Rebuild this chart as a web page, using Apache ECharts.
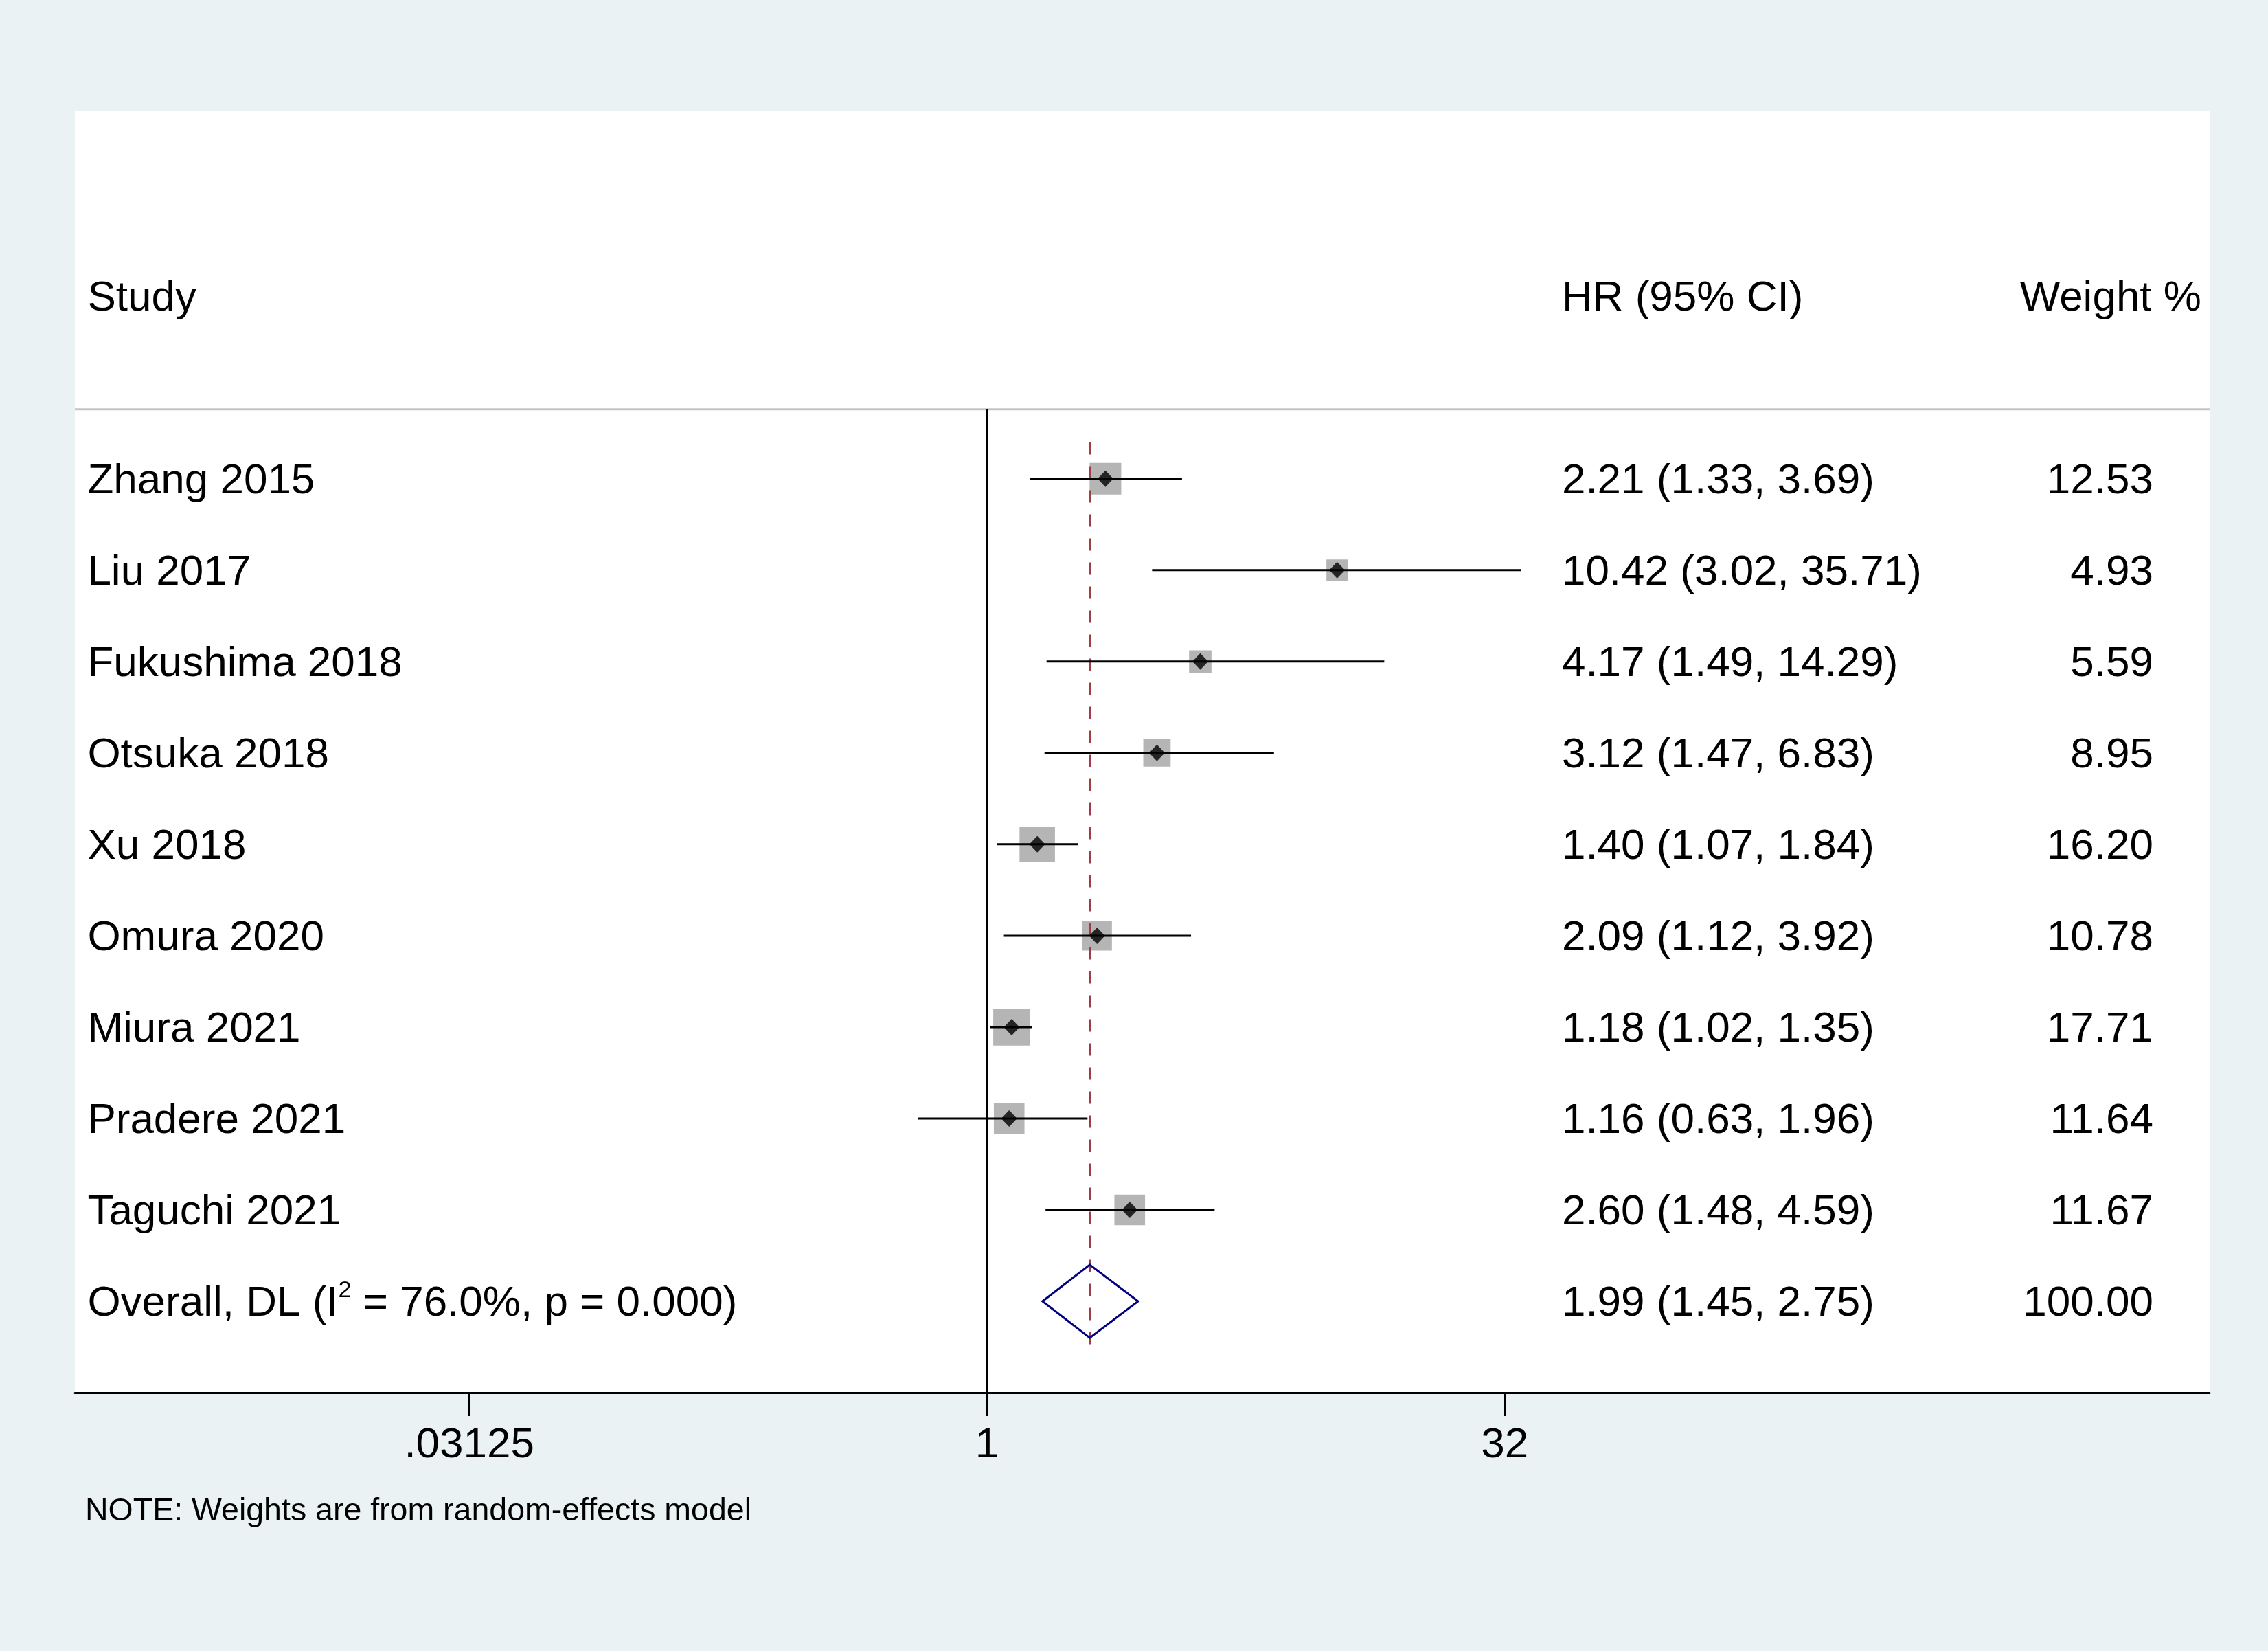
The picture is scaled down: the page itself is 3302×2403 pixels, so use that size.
<!doctype html>
<html>
<head>
<meta charset="utf-8">
<title>Forest plot</title>
<style>
html, body { margin: 0; padding: 0; background: #eaf2f3; }
#main { width: 3302px; height: 2403px; }
</style>
</head>
<body>
<div id="main"></div>
<script src="https://cdn.jsdelivr.net/npm/echarts@6/dist/echarts.min.js"></script>
<script>
// data
var studies = ['Zhang 2015', 'Liu 2017', 'Fukushima 2018', 'Otsuka 2018', 'Xu 2018',
  'Omura 2020', 'Miura 2021', 'Pradere 2021', 'Taguchi 2021'];
var hr     = [2.21, 10.42, 4.17, 3.12, 1.40, 2.09, 1.18, 1.16, 2.60];
var lower  = [1.33, 3.02, 1.49, 1.47, 1.07, 1.12, 1.02, 0.63, 1.48];
var upper  = [3.69, 35.71, 14.29, 6.83, 1.84, 3.92, 1.35, 1.96, 4.59];
var weight = [12.53, 4.93, 5.59, 8.95, 16.20, 10.78, 17.71, 11.64, 11.67];
var overall = [1.99, 1.45, 2.75];   // estimate, lower, upper
var overallWeight = 100.00;
var overallLabel = 'Overall, DL (I{s|2} = 76.0%, p = 0.000)';
var headers = ['Study', 'HR (95% CI)', 'Weight %'];
var tickValues = [1 / 32, 1, 32];
var note = 'NOTE: Weights are from random-effects model';

var FONT = '"Liberation Sans", Arial, Helvetica, sans-serif';
var log2 = function (v) { return Math.log(v) / Math.LN2; };
var fmt = function (v) { return v.toFixed(2); };

// column positions (in log2 axis units) and rows
var colStudy = -8.687, colHR = 5.552, colWeight = 11.264, colWeightHead = 11.728;
var headRow = -2.0, sepRow = -0.76, overallRow = studies.length;
var textDy = 4;

var labelItems = [];
labelItems.push({ x: colStudy, row: headRow, text: headers[0], align: 'left' });
labelItems.push({ x: colHR, row: headRow, text: headers[1], align: 'left' });
labelItems.push({ x: colWeightHead, row: headRow, text: headers[2], align: 'right' });
studies.forEach(function (s, i) {
  labelItems.push({ x: colStudy, row: i, text: s, align: 'left' });
  labelItems.push({ x: colHR, row: i, text: fmt(hr[i]) + ' (' + fmt(lower[i]) + ', ' + fmt(upper[i]) + ')', align: 'left' });
  labelItems.push({ x: colWeight, row: i, text: fmt(weight[i]), align: 'right' });
});
labelItems.push({ x: colStudy, row: overallRow, text: '{n|' + overallLabel.replace('{s|2}', '}{s|2}{n|') + '}', align: 'left' });
labelItems.push({ x: colHR, row: overallRow, text: fmt(overall[0]) + ' (' + fmt(overall[1]) + ', ' + fmt(overall[2]) + ')', align: 'left' });
labelItems.push({ x: colWeight, row: overallRow, text: fmt(overallWeight), align: 'right' });

var ciData = studies.map(function (s, i) { return [log2(lower[i]), log2(upper[i]), i]; });
var boxData = studies.map(function (s, i) { return [log2(hr[i]), i, weight[i]]; });
var pointData = studies.map(function (s, i) { return [log2(hr[i]), i]; });

var chart = echarts.init(document.getElementById('main'));

var option = {
  animation: false,
  backgroundColor: '#eaf2f3',
  textStyle: { fontFamily: FONT },
  grid: { left: 109, right: 85, top: 162, bottom: 376, show: true, backgroundColor: '#ffffff', borderWidth: 0 },
  xAxis: {
    type: 'value',
    min: -8.809,
    max: 11.808,
    splitLine: { show: false },
    axisLine: { show: true, onZero: false, lineStyle: { color: '#000', width: 3 } },
    axisTick: { show: true, length: 34, customValues: tickValues.map(log2), lineStyle: { color: '#000', width: 2 } },
    axisLabel: {
      customValues: tickValues.map(log2),
      margin: 46,
      fontSize: 62,
      lineHeight: 62,
      color: '#000',
      fontFamily: FONT,
      formatter: function (v) {
        var n = +Math.pow(2, v).toPrecision(6);
        return String(n).replace(/^0\./, '.');
      }
    }
  },
  yAxis: { type: 'value', inverse: true, min: -4.02, max: 10, show: false },
  graphic: [{
    type: 'text', left: 124, top: 2200 - 23,
    style: { text: note, fontSize: 46.5, fontFamily: FONT, fill: '#000' }
  }],
  series: [
    { // separator under the header
      type: 'line', symbol: 'none', silent: true,
      data: [[-8.809, sepRow], [11.808, sepRow]],
      lineStyle: { color: '#c4c4c4', width: 3 }, z: 1
    },
    { // line of no effect
      type: 'line', symbol: 'none', silent: true,
      data: [[0, sepRow], [0, 10]],
      lineStyle: { color: '#000', width: 2.5 }, z: 2
    },
    { // weight boxes
      type: 'custom', z: 3,
      data: boxData,
      renderItem: function (params, api) {
        var p = api.coord([api.value(0), api.value(1)]);
        var s = 11.4 * Math.sqrt(api.value(2)) + 5.7;
        return { type: 'rect', shape: { x: p[0] - s / 2, y: p[1] - s / 2, width: s, height: s }, style: { fill: '#b5b5b5' } };
      }
    },
    { // overall effect line
      type: 'line', symbol: 'none', silent: true, z: 4,
      data: [[log2(overall[0]), -0.4], [log2(overall[0]), 9.5]],
      lineStyle: { color: '#a03c46', width: 3, type: [18, 17] }
    },
    { // confidence intervals
      type: 'custom', z: 5,
      data: ciData,
      renderItem: function (params, api) {
        var a = api.coord([api.value(0), api.value(2)]);
        var b = api.coord([api.value(1), api.value(2)]);
        return { type: 'line', shape: { x1: a[0], y1: a[1], x2: b[0], y2: b[1] }, style: { stroke: '#000', lineWidth: 3 } };
      }
    },
    { // point estimates
      type: 'scatter', z: 6,
      data: pointData,
      symbol: 'diamond', symbolSize: [23, 24],
      itemStyle: { color: '#000' }
    },
    { // pooled diamond
      type: 'custom', z: 6,
      data: [[log2(overall[1]), log2(overall[0]), log2(overall[2]), overallRow]],
      renderItem: function (params, api) {
        var r = api.value(3);
        var pts = [
          api.coord([api.value(0), r]),
          api.coord([api.value(1), r - 0.4]),
          api.coord([api.value(2), r]),
          api.coord([api.value(1), r + 0.4])
        ];
        return { type: 'polygon', shape: { points: pts }, style: { fill: 'rgba(255,255,255,0)', stroke: '#000080', lineWidth: 3 } };
      }
    },
    { // table text
      type: 'custom', z: 7,
      data: labelItems.map(function (t) { return [t.x, t.row]; }),
      renderItem: function (params, api) {
        var t = labelItems[params.dataIndex];
        var p = api.coord([api.value(0), api.value(1)]);
        return {
          type: 'text', x: p[0], y: p[1] + textDy,
          style: {
            text: t.text, fontSize: 62, fontFamily: FONT, fill: '#000',
            align: t.align, verticalAlign: 'middle',
            rich: {
              n: { fontSize: 62, lineHeight: 72, fontFamily: FONT, fill: '#000' },
              s: { fontSize: 34, lineHeight: 22, fontFamily: FONT, fill: '#000', verticalAlign: 'top' }
            }
          }
        };
      }
    }
  ]
};

chart.setOption(option);
</script>
</body>
</html>
